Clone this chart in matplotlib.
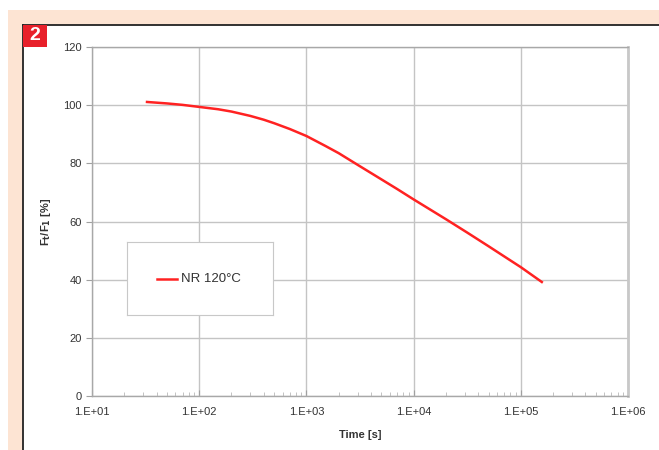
import matplotlib
matplotlib.use("Agg")
import matplotlib.pyplot as plt
from matplotlib.patches import Rectangle
from matplotlib.ticker import LogLocator, FixedLocator, NullFormatter
import numpy as np

# --- data ---
time_s = [32.6, 50, 70, 100, 150, 200, 300, 400, 500, 700, 1000, 1500, 2000, 3000,
          5000, 7000, 10000, 20000, 31600, 50000, 70000, 100000, 157000]
force_pct = [101.1, 100.6, 100.1, 99.4, 98.6, 97.8, 96.3, 95.0, 93.8, 91.8, 89.4, 86.0,
             83.5, 79.5, 74.5, 71.2, 67.6, 60.8, 56.2, 51.5, 48.0, 44.3, 39.2]
series_label = "NR 120\u00b0C"
x_ticks = [1e1, 1e2, 1e3, 1e4, 1e5, 1e6]
x_tick_labels = ["1.E+01", "1.E+02", "1.E+03", "1.E+04", "1.E+05", "1.E+06"]
y_ticks = [0, 20, 40, 60, 80, 100, 120]

W, H = 659, 450
plt.rcParams['font.family'] = ['Liberation Sans', 'DejaVu Sans']
fig = plt.figure(figsize=(W / 100, H / 100), dpi=100)
fig.patch.set_facecolor("white")

def px(x0, y0, w, h):
    # pixel box (top-left origin) -> figure fraction
    return (x0 / W, 1 - (y0 + h) / H, w / W, h / H)

# peach frame and white panel (behind everything)
peach = "#fde4d3"
fig.patches.append(Rectangle((8 / W, 0), 1, 1 - 10 / H, transform=fig.transFigure,
                             facecolor=peach, edgecolor="none", zorder=-10))
fig.patches.append(Rectangle((23 / W, 0), 1, 1 - 25 / H, transform=fig.transFigure,
                             facecolor="white", edgecolor="none", zorder=-9))
fig.add_artist(plt.Line2D([23 / W, 1], [1 - 25 / H] * 2, transform=fig.transFigure,
                          color="#222222", lw=1.3, zorder=-8))
fig.add_artist(plt.Line2D([23 / W] * 2, [0, 1 - 25 / H], transform=fig.transFigure,
                          color="#222222", lw=1.3, zorder=-8))

# red badge "2"
bx, by, bw, bh = px(23, 25, 24, 22)
fig.patches.append(Rectangle((bx, by), bw, bh, transform=fig.transFigure,
                             facecolor="#e8202a", edgecolor="none", zorder=10))
fig.text(bx + bw / 2, by + bh / 2, "2", color="white", fontsize=14, fontweight="bold",
         ha="center", va="center", zorder=11)

# --- main plot ---
ax = fig.add_axes(px(92, 47, 536, 349))
ax.plot(time_s, force_pct, color="#ff2222", lw=1.8, label=series_label, zorder=3)

ax.set_xscale("log")
ax.set_xlim(1e1, 1e6)
ax.set_ylim(0, 120)
ax.xaxis.set_major_locator(FixedLocator(x_ticks))
ax.set_xticklabels(x_tick_labels)
ax.xaxis.set_minor_locator(LogLocator(base=10, subs=np.arange(2, 10)))
ax.xaxis.set_minor_formatter(NullFormatter())
ax.set_yticks(y_ticks)

ax.grid(True, which="major", color="#c4c4c4", lw=1.0)
ax.set_axisbelow(True)
for side in ["top", "right", "left", "bottom"]:
    ax.spines[side].set_color("#a8a8a8")
    ax.spines[side].set_linewidth(1.0)
ax.spines["right"].set_linewidth(2.0)
ax.spines["right"].set_color("#c8c8c8")

ax.tick_params(axis="both", which="major", labelsize=8, colors="#a0a0a0",
               labelcolor="#333333", length=4, width=0.8)
ax.tick_params(axis="x", which="major", direction="in", length=4)
ax.tick_params(axis="x", which="minor", direction="in", length=3, colors="#b8b8b8")
ax.tick_params(axis="x", pad=8)

ax.set_xlabel("Time [s]", fontsize=8, fontweight="bold", color="#333333", labelpad=9)
ax.set_ylabel("F$_\\mathbf{t}$/F$_\\mathbf{1}$ [%]", fontsize=8, fontweight="bold",
              color="#333333", labelpad=7)

# legend box
lx, ly, lw_, lh = px(127, 242, 146, 73)
leg_ax = fig.add_axes((lx, ly, lw_, lh))
leg_ax.set_xticks([])
leg_ax.set_yticks([])
for s in leg_ax.spines.values():
    s.set_color("#c8c8c8")
leg_ax.set_xlim(0, 146)
leg_ax.set_ylim(73, 0)
leg_ax.plot([30, 50], [37, 37], color="#ff2222", lw=1.8)
leg_ax.text(54, 37, series_label, fontsize=9.5, color="#333333", va="center", ha="left")

fig.savefig("out.png", dpi=100, facecolor=fig.get_facecolor())
